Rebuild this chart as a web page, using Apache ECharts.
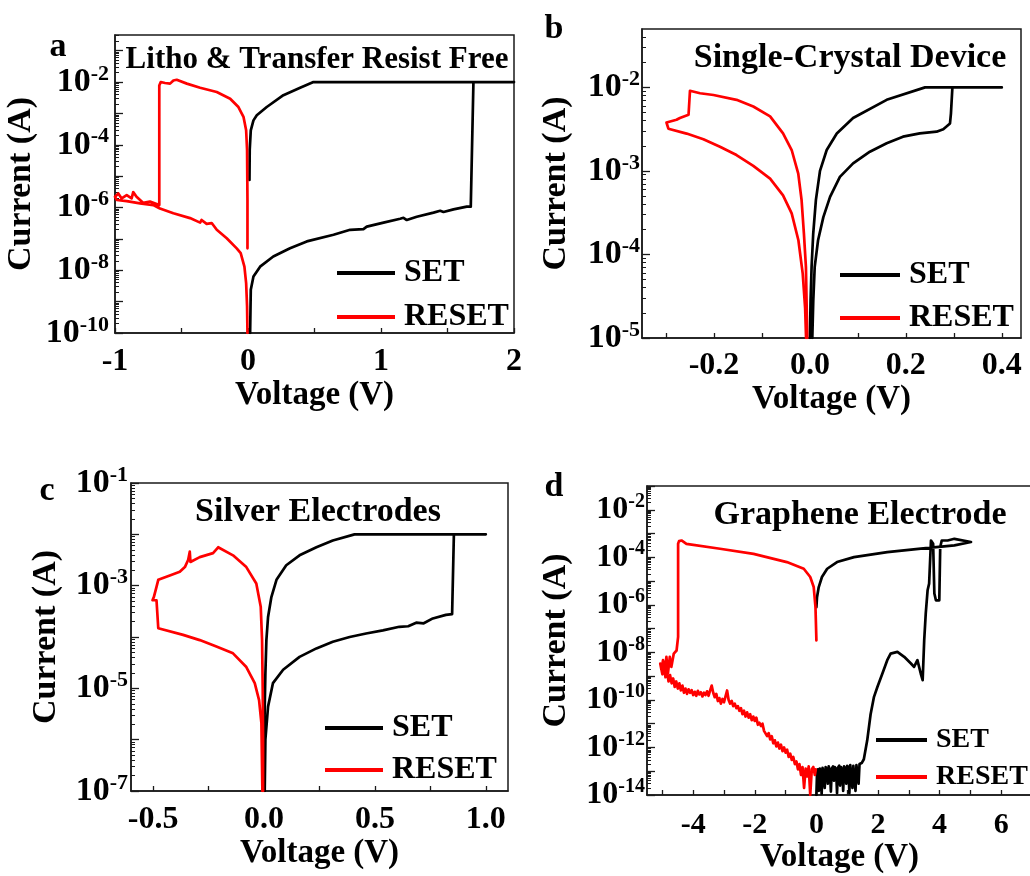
<!DOCTYPE html>
<html>
<head>
<meta charset="utf-8">
<title>Resistive switching I-V curves</title>
<script src="https://cdn.jsdelivr.net/npm/echarts@6/dist/echarts.min.js"></script>
<style>
  html, body { margin: 0; padding: 0; background: #fff; }
  #chart { width: 1030px; height: 876px; }
</style>
</head>
<body>
<div id="chart"></div>
<script>
// ---- Panel a: litho & transfer resist free ----
const aSetV = [0.016, 0.021, 0.041, 0.091, 0.19, 0.316, 0.442, 0.643, 0.768, 0.868, 0.893, 1.019, 1.144, 1.169, 1.194, 1.269, 1.395, 1.445, 1.47, 1.545, 1.645, 1.675, 1.695, 2.0, 0.492, 0.392, 0.266, 0.141, 0.066, 0.041, 0.021, 0.013, 0.011];
const aSetI = [1e-10, 2.4e-9, 6.3e-9, 1.3e-8, 2.75e-8, 5e-8, 8.3e-8, 1.35e-7, 1.95e-7, 2.05e-7, 2.45e-7, 3.3e-7, 4.4e-7, 4.7e-7, 4.0e-7, 5.1e-7, 6.9e-7, 7.9e-7, 7.2e-7, 8.7e-7, 1.07e-6, 1.07e-6, 1e-2, 1e-2, 1e-2, 6.6e-3, 3.8e-3, 1.6e-3, 8.7e-4, 6e-4, 2.9e-4, 6.8e-5, 7.6e-6];
const aResetV = [-0.004, -0.004, -0.007, -0.014, -0.034, -0.072, -0.134, -0.235, -0.36, -0.46, -0.536, -0.561, -0.586, -0.624, -0.656, -0.667, -0.667, -0.687, -0.737, -0.787, -0.838, -0.863, -0.875, -0.912, -0.95, -0.975, -1.0, -0.987, -0.912, -0.812, -0.712, -0.662, -0.561, -0.436, -0.36, -0.349, -0.311, -0.273, -0.235, -0.16, -0.085, -0.055, -0.027, -0.014, -0.007, -0.004];
const aResetI = [5e-8, 1.74e-6, 6.8e-5, 2.9e-4, 7.8e-4, 1.6e-3, 2.95e-3, 4.8e-3, 6.6e-3, 8.9e-3, 1.18e-2, 1.12e-2, 8.9e-3, 9.3e-3, 1e-2, 7.8e-3, 1.2e-6, 1.3e-6, 1.55e-6, 1.4e-6, 2.2e-6, 3.1e-6, 1.95e-6, 2.5e-6, 1.95e-6, 2.8e-6, 2.2e-6, 1.74e-6, 1.6e-6, 1.35e-6, 1.2e-6, 9.3e-7, 6.6e-7, 4.6e-7, 3.3e-7, 4e-7, 3e-7, 3.2e-7, 1.95e-7, 1.05e-7, 5e-8, 3.5e-8, 1.3e-8, 3.9e-9, 7.1e-10, 1e-10];

// ---- Panel b: single-crystal device ----
const bSetV = [0.005, 0.007, 0.010, 0.017, 0.028, 0.042, 0.0625, 0.09, 0.125, 0.16, 0.194, 0.229, 0.264, 0.278, 0.292, 0.294, 0.297, 0.40, 0.24, 0.16, 0.09, 0.056, 0.035, 0.021, 0.0125, 0.0069, 0.0035, 0.0014, 0];
const bSetI = [1e-5, 2.8e-5, 7.1e-5, 1.48e-4, 2.8e-4, 4.9e-4, 8.5e-4, 1.23e-3, 1.7e-3, 2.14e-3, 2.57e-3, 2.82e-3, 2.95e-3, 3.16e-3, 3.7e-3, 4.9e-3, 1e-2, 1e-2, 1e-2, 7.1e-3, 4.3e-3, 2.8e-3, 1.78e-3, 1e-3, 4.5e-4, 1.78e-4, 7.1e-5, 2.8e-5, 1e-5];
const bResetV = [-0.0056, -0.0083, -0.0125, -0.0174, -0.0243, -0.038, -0.056, -0.083, -0.118, -0.153, -0.201, -0.229, -0.25, -0.253, -0.253, -0.271, -0.278, -0.299, -0.302, -0.295, -0.257, -0.222, -0.1875, -0.153, -0.118, -0.083, -0.056, -0.038, -0.024, -0.015, -0.010, -0.008];
const bResetI = [1e-5, 7.1e-5, 1.78e-4, 4.5e-4, 9.3e-4, 1.78e-3, 2.82e-3, 4.5e-3, 5.9e-3, 7.1e-3, 8.1e-3, 8.5e-3, 9.1e-3, 8.7e-3, 4.7e-3, 4.3e-3, 4.1e-3, 3.8e-3, 3.6e-3, 3.2e-3, 2.8e-3, 2.4e-3, 1.95e-3, 1.55e-3, 1.15e-3, 8.1e-4, 5.1e-4, 3.1e-4, 1.48e-4, 5.9e-5, 2.3e-5, 1e-5];

// ---- Panel c: silver electrodes ----
const cSetV = [0.003, 0.006, 0.018, 0.04, 0.086, 0.16, 0.236, 0.31, 0.386, 0.46, 0.536, 0.61, 0.65, 0.686, 0.72, 0.761, 0.82, 0.848, 0.856, 1.0, 0.408, 0.31, 0.236, 0.16, 0.10, 0.056, 0.033, 0.018, 0.0105, 0.006, 0.003, 0.0];
const cSetI = [1e-7, 1e-6, 4.4e-6, 1.26e-5, 2.3e-5, 4.1e-5, 6e-5, 8.1e-5, 1e-4, 1.17e-4, 1.35e-4, 1.58e-4, 1.62e-4, 1.9e-4, 1.85e-4, 2.3e-4, 2.7e-4, 2.8e-4, 1e-2, 1e-2, 1e-2, 7.6e-3, 5.6e-3, 3.9e-3, 2.5e-3, 1.3e-3, 6e-4, 2.45e-4, 8.7e-5, 1.95e-5, 4.4e-6, 5e-7];
const cResetV = [-0.0045, -0.0045, -0.006, -0.009, -0.015, -0.035, -0.08, -0.14, -0.207, -0.23, -0.29, -0.332, -0.335, -0.342, -0.357, -0.38, -0.425, -0.477, -0.485, -0.497, -0.503, -0.485, -0.477, -0.365, -0.29, -0.215, -0.14, -0.08, -0.042, -0.0225, -0.012, -0.0075];
const cResetI = [1e-7, 1e-6, 9.3e-6, 8.7e-5, 3.9e-4, 1.1e-3, 2.3e-3, 3.9e-3, 5.6e-3, 4.3e-3, 3.6e-3, 2.9e-3, 4.6e-3, 3.2e-3, 2.3e-3, 1.86e-3, 1.58e-3, 1.3e-3, 9.5e-4, 6e-4, 5.2e-4, 5.2e-4, 1.48e-4, 1.1e-4, 8.7e-5, 6.5e-5, 4.8e-5, 2.6e-5, 1.26e-5, 5.9e-6, 2.1e-6, 1e-7];

// ---- Panel d: graphene electrode ----
const dSetV = [0, 0.02, 0.05, 0.08, 0.11, 0.14, 0.17, 0.2, 0.24, 0.27, 0.3, 0.34, 0.37, 0.4, 0.44, 0.47, 0.5, 0.54, 0.57, 0.6, 0.64, 0.67, 0.7, 0.74, 0.77, 0.8, 0.84, 0.87, 0.9, 0.94, 0.97, 1.0, 1.04, 1.07, 1.1, 1.14, 1.17, 1.2, 1.24, 1.27, 1.3, 1.34, 1.37, 1.4, 1.44, 1.47, 1.5, 1.54, 1.65, 1.76, 1.87, 1.98, 2.14, 2.3, 2.41, 2.63, 2.85, 3.07, 3.17, 3.28, 3.39, 3.45, 3.5, 3.55, 3.61, 3.66, 3.72, 3.79, 3.83, 3.88, 3.99, 4.02, 4.07, 4.26, 4.48, 5.02, 4.48, 3.39, 2.3, 1.22, 0.67, 0.35, 0.18, 0.076, 0.02, 0];
const dSetI = [1e-14, 8e-14, 1.2e-13, 1.5e-14, 1.3e-13, 6e-14, 1.1e-14, 1.4e-13, 9e-14, 2e-14, 1.5e-13, 1.2e-13, 3e-14, 1.6e-13, 1e-13, 1.4e-14, 1.3e-13, 1.6e-13, 4e-14, 1.5e-13, 1.2e-13, 1.2e-14, 1.4e-13, 1.7e-13, 2.5e-14, 1.5e-13, 1.1e-13, 1.5e-14, 1.6e-13, 1.3e-13, 3e-14, 1.7e-13, 1.4e-13, 1.2e-14, 1.8e-13, 1.5e-13, 2e-14, 1.7e-13, 1.9e-13, 1.5e-14, 1.8e-13, 1.6e-13, 3e-14, 2e-13, 1.8e-13, 2.2e-13, 2.6e-13, 3.2e-13, 2e-12, 2.5e-11, 1.35e-10, 3.5e-10, 1.26e-9, 4.7e-9, 8.9e-9, 1.05e-8, 6.5e-9, 3.4e-9, 2.45e-9, 4.7e-9, 1.26e-9, 6.8e-10, 3.2e-8, 4.3e-7, 4.1e-6, 7.8e-6, 5.1e-4, 3.7e-4, 3e-6, 1.55e-6, 1.55e-6, 2.7e-4, 5.1e-4, 5.1e-4, 6e-4, 4.4e-4, 3.2e-4, 2.3e-4, 1.66e-4, 1.02e-4, 6.3e-5, 3.3e-5, 1.48e-5, 5.6e-6, 2.1e-6, 8e-7];
const dResetV = [0, -0.03, -0.087, -0.2, -0.41, -0.96, -2.04, -3.13, -4.22, -4.38, -4.46, -4.49, -4.49, -4.54, -4.63, -4.71, -4.76, -4.82, -4.87, -4.92, -4.98, -5.03, -5.07,
  -5.0, -4.95, -4.9, -4.85, -4.8, -4.75, -4.7, -4.65, -4.6, -4.55,
  -4.5, -4.45, -4.4, -4.35, -4.3, -4.25, -4.2, -4.15, -4.1, -4.05,
  -4.0, -3.95, -3.9, -3.85, -3.8, -3.75, -3.7, -3.65, -3.6, -3.55,
  -3.5, -3.45, -3.4, -3.35, -3.3, -3.25, -3.2, -3.15, -3.1, -3.05,
  -3.0, -2.95, -2.9, -2.85, -2.8, -2.75, -2.7, -2.65, -2.6, -2.55,
  -2.5, -2.45, -2.4, -2.35, -2.3, -2.25, -2.2, -2.15, -2.1, -2.05,
  -2.0, -1.95, -1.9, -1.85, -1.8, -1.75, -1.7, -1.65, -1.6, -1.55,
  -1.5, -1.45, -1.4, -1.35, -1.3, -1.25, -1.2, -1.15, -1.1, -1.05,
  -1.0, -0.95, -0.9, -0.85, -0.8, -0.75, -0.7, -0.65, -0.6, -0.55,
  -0.5, -0.45, -0.4, -0.35, -0.3, -0.25, -0.2, -0.15, -0.1, -0.05, -0.02];
const dResetI = [3.2e-8, 8.1e-7, 5.6e-6, 1.48e-5, 3.3e-5, 6.3e-5, 1.4e-4, 2.3e-4, 3.7e-4, 5.1e-4, 4.8e-4, 3.7e-4, 4.5e-8, 1.2e-8, 8.9e-9, 2.45e-9, 6.5e-9, 1.3e-9, 6.5e-9, 1.8e-9, 4.7e-9, 1.8e-9, 3.4e-9,
  1.2e-9, 2.5e-9, 9e-10, 1.6e-9, 6e-10, 1.1e-9, 5e-10, 8e-10, 3.5e-10, 6e-10,
  3e-10, 5e-10, 2.5e-10, 4e-10, 2e-10, 3e-10, 1.8e-10, 2.8e-10, 2e-10, 2.6e-10,
  1.6e-10, 2.2e-10, 1.5e-10, 2.4e-10, 1.7e-10, 2.1e-10, 1.4e-10, 2e-10, 1.6e-10, 2.3e-10,
  1.5e-10, 2.5e-10, 4e-10, 2e-10, 1.3e-10, 1.8e-10, 9e-11, 1.2e-10, 7e-11, 1.1e-10,
  8e-11, 1.4e-10, 2.5e-10, 1e-10, 7e-11, 9e-11, 5.5e-11, 7e-11, 4.5e-11, 5.5e-11,
  3.5e-11, 4.5e-11, 2.5e-11, 3.5e-11, 2e-11, 3e-11, 1.8e-11, 2.5e-11, 1.4e-11, 2e-11,
  1.3e-11, 1.8e-11, 9e-12, 1.1e-11, 8e-12, 1e-11, 5e-12, 6e-12, 3e-12, 4e-12,
  2.2e-12, 3e-12, 1.5e-12, 2e-12, 1.1e-12, 1.6e-12, 9e-13, 1.3e-12, 7e-13, 1e-12,
  6e-13, 8e-13, 4e-13, 5.5e-13, 3e-13, 4e-13, 2e-13, 2.6e-13, 1.2e-13, 2e-13,
  7e-14, 1.5e-13, 2e-14, 1.3e-13, 6e-14, 1.6e-13, 1e-14, 1.2e-13, 1.5e-13, 7e-14, 1.2e-13];

// ---- Axis tick values and labels ----
const aXTicks = [-1, -0.5, 0, 0.5, 1, 1.5, 2];
const aXLabels = [-1, 0, 1, 2];
const bXTicks = [-0.3, -0.2, -0.1, 0, 0.1, 0.2, 0.3, 0.4];
const bXLabels = [-0.2, 0, 0.2, 0.4];
const cXTicks = [-0.5, -0.25, 0, 0.25, 0.5, 0.75, 1.0];
const cXLabels = [-0.5, 0, 0.5, 1.0];
const dXTicks = [-5, -4, -3, -2, -1, 0, 1, 2, 3, 4, 5, 6];
const dXLabels = [-4, -2, 0, 2, 4, 6];
const aYExps = [-10, -8, -6, -4, -2];
const bYExps = [-5, -4, -3, -2];
const cYExps = [-7, -5, -3, -1];
const dYExps = [-14, -12, -10, -8, -6, -4, -2];

const SERIES_NAMES = ['SET', 'RESET'];
const PANEL_LETTERS = ['a', 'b', 'c', 'd'];
const PANEL_TITLES = ['Litho & Transfer Resist Free', 'Single-Crystal Device', 'Silver Electrodes', 'Graphene Electrode'];

const FONT = "'Liberation Serif', 'Times New Roman', serif";
const AXIS = '#1a1a1a';
const SET_COLOR = '#000000';
const RESET_COLOR = '#ff0000';

function zip(v, i) { return v.map((x, k) => [x, i[k]]); }

// decade positions, nudged a hair inside the axis range so edge ticks survive filtering
function decades(lo, hi, minV, maxV) {
  const out = [];
  for (let k = lo; k <= hi; k++) {
    let v = Math.pow(10, k);
    if (v <= minV * 1.000001) v = minV * 1.00001;
    if (v >= maxV * 0.999999) v = maxV * 0.99999;
    out.push(v);
  }
  return out;
}
function minorDecades(lo, hi, maxV) {
  const out = [];
  for (let k = lo; k <= hi; k++) {
    for (let m = 2; m <= 9; m++) {
      const v = m * Math.pow(10, k);
      if (v < maxV) out.push(v);
    }
  }
  return out;
}

function xAxisFor(g, min, max, ticks, labels, digits, fs, margin, gap) {
  return {
    type: 'value', gridIndex: g, min: min, max: max, position: 'bottom',
    splitLine: { show: false },
    axisLine: { show: true, onZero: false, lineStyle: { color: AXIS, width: 1.5 } },
    axisTick: { show: true, inside: true, length: 5, customValues: ticks, lineStyle: { color: AXIS, width: 1.3 } },
    axisLabel: {
      customValues: labels, margin: margin, color: '#000',
      fontFamily: FONT, fontWeight: 'bold', fontSize: fs,
      formatter: v => Number(v).toFixed(digits)
    },
    name: 'Voltage (V)', nameLocation: 'middle', nameGap: gap,
    nameTextStyle: { fontFamily: FONT, fontWeight: 'bold', fontSize: 33, color: '#000' }
  };
}

function yAxesFor(g, minV, maxV, lo, hi, labelExps, fs, sup, margin, gap) {
  const majors = decades(lo, hi, minV, maxV);
  const labelVals = decades(Math.min(...labelExps), Math.max(...labelExps), minV, maxV)
    .filter(v => labelExps.indexOf(Math.round(Math.log10(v))) >= 0);
  const base = {
    type: 'log', gridIndex: g, min: minV, max: maxV, position: 'left', logBase: 10,
    splitLine: { show: false }
  };
  return [
    Object.assign({}, base, {
      axisLine: { show: true, onZero: false, lineStyle: { color: AXIS, width: 1.5 } },
      axisTick: { show: true, inside: true, length: 8, customValues: majors, lineStyle: { color: AXIS, width: 1.3 } },
      axisLabel: {
        customValues: labelVals, margin: margin,
        formatter: v => '{b|10}{s|' + Math.round(Math.log10(v)) + '}',
        rich: {
          b: { fontFamily: FONT, fontWeight: 'bold', fontSize: fs, color: '#000', lineHeight: fs + 4 },
          s: { fontFamily: FONT, fontWeight: 'bold', fontSize: sup, color: '#000', verticalAlign: 'top', lineHeight: sup }
        }
      },
      name: 'Current (A)', nameLocation: 'middle', nameGap: gap, nameRotate: 90,
      nameTextStyle: { fontFamily: FONT, fontWeight: 'bold', fontSize: 34, color: '#000' }
    }),
    // second, unlabeled log axis that only carries the 2..9 minor ticks
    Object.assign({}, base, {
      axisLine: { show: false, onZero: false },
      axisLabel: { show: false },
      axisTick: { show: true, inside: true, length: 4, customValues: minorDecades(lo, hi, maxV), lineStyle: { color: AXIS, width: 1 } }
    })
  ];
}

function gridAt(left, top, width, height) {
  return {
    left: left, top: top, width: width, height: height, containLabel: false, outerBoundsMode: 'none',
    show: true, borderColor: AXIS, borderWidth: 1.5, backgroundColor: 'transparent'
  };
}

function curve(g, name, v, i, color) {
  return {
    type: 'line', name: name, xAxisIndex: g, yAxisIndex: 2 * g,
    data: zip(v, i), showSymbol: false, symbol: 'none', silent: true, clip: true,
    lineStyle: { width: 2.7, color: color, join: 'round', cap: 'round' },
    itemStyle: { color: color }, z: 3
  };
}

function legendAt(left, top, iconW, fs, lh, gap) {
  return {
    orient: 'vertical', left: left, top: top, icon: 'rect', itemWidth: iconW, itemHeight: 4,
    itemGap: gap, selectedMode: false, data: SERIES_NAMES,
    textStyle: { fontFamily: FONT, fontWeight: 'bold', fontSize: fs, lineHeight: lh, color: '#000', padding: [0, 0, 0, 4] }
  };
}

function label(x, y, text, size) {
  return {
    type: 'text', x: x, y: y, z: 10, silent: true,
    style: { text: text, fill: '#000', font: 'bold ' + size + 'px ' + FONT, textAlign: 'center', textVerticalAlign: 'middle' }
  };
}

const option = {
  backgroundColor: '#ffffff',
  animation: false,
  grid: [
    gridAt(115, 35, 399, 298),
    gridAt(642, 29, 379, 309),
    gridAt(131, 483, 377, 308),
    gridAt(647, 486, 385, 309)
  ],
  xAxis: [
    xAxisFor(0, -1, 2, aXTicks, aXLabels, 0, 32, 13, 45),
    xAxisFor(1, -0.35, 0.44, bXTicks, bXLabels, 1, 32, 12, 45),
    xAxisFor(2, -0.6, 1.1, cXTicks, cXLabels, 1, 32, 13, 43),
    xAxisFor(3, -5.5, 7, dXTicks, dXLabels, 0, 30, 15, 44)
  ],
  yAxis: [].concat(
    yAxesFor(0, 1e-10, 0.316, -10, -1, aYExps, 34, 22, 6, 77),
    yAxesFor(1, 1e-5, 0.05, -5, -2, bYExps, 34, 22, 2, 69),
    yAxesFor(2, 1e-7, 1e-1, -7, -1, cYExps, 34, 22, 3, 68),
    yAxesFor(3, 1e-14, 1e-1, -14, -1, dYExps, 32, 20, 2, 74)
  ),
  legend: [
    legendAt(332, 250, 58, 32, 36, 8),
    legendAt(835, 252, 60, 32, 36, 7),
    legendAt(320, 705, 58, 32, 36, 6),
    legendAt(871, 719, 51, 28, 32, 5)
  ],
  series: [
    curve(0, 'SET', aSetV, aSetI, SET_COLOR),
    curve(0, 'RESET', aResetV, aResetI, RESET_COLOR),
    curve(1, 'SET', bSetV, bSetI, SET_COLOR),
    curve(1, 'RESET', bResetV, bResetI, RESET_COLOR),
    curve(2, 'SET', cSetV, cSetI, SET_COLOR),
    curve(2, 'RESET', cResetV, cResetI, RESET_COLOR),
    curve(3, 'SET', dSetV, dSetI, SET_COLOR),
    curve(3, 'RESET', dResetV, dResetI, RESET_COLOR)
  ],
  graphic: [
    label(58, 47, PANEL_LETTERS[0], 34),
    label(554, 29, PANEL_LETTERS[1], 34),
    label(47, 491, PANEL_LETTERS[2], 34),
    label(554, 487, PANEL_LETTERS[3], 34),
    label(317, 60, PANEL_TITLES[0], 31),
    label(850, 58, PANEL_TITLES[1], 34),
    label(318, 512, PANEL_TITLES[2], 34),
    label(860, 515, PANEL_TITLES[3], 34)
  ]
};

const chart = echarts.init(document.getElementById('chart'), null, { renderer: 'canvas' });
chart.setOption(option);
</script>
</body>
</html>
